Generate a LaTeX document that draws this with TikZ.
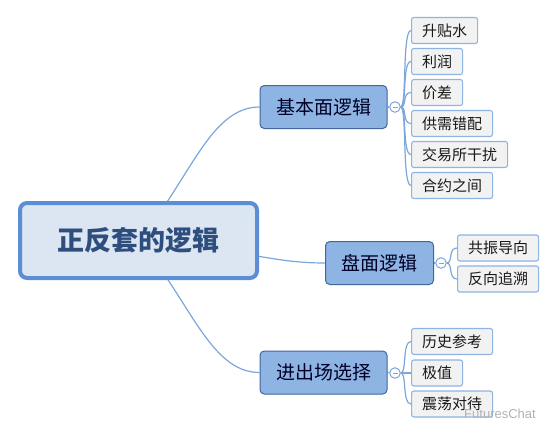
\documentclass[tikz,border=0pt]{standalone}
\usepackage{fontspec}
\usepackage{tikz}
\usetikzlibrary{backgrounds}
\newfontfamily\cjk{Noto Sans CJK SC}
\newfontfamily\wmfont{Liberation Sans}
\definecolor{rootfill}{HTML}{DCE6F2}
\definecolor{rootline}{HTML}{5B8ED4}
\definecolor{rootText}{HTML}{2E4F7E}
\definecolor{topicfill}{HTML}{8DB4E3}
\definecolor{topicline}{HTML}{41679C}
\definecolor{subfill}{HTML}{F2F2F2}
\definecolor{subline}{HTML}{8DB4E3}
\definecolor{linkcolor}{HTML}{7AA6DC}

\tikzset{
  rootbox/.style={draw=rootline, fill=rootfill, line width=4, rounded corners=0.25cm, minimum width=237, minimum height=75, text=rootText, font={\cjk\bfseries\fontsize{27}{27}\selectfont}},
  topicbox/.style={draw=topicline, fill=topicfill, line width=1, rounded corners=0.15cm, minimum height=43, inner xsep=16, text=black!85!blue, font={\cjk\fontsize{19}{19}\selectfont}},
  subbox/.style={draw=subline, fill=subfill, line width=1.1, rounded corners=0.08cm, minimum height=26, inner xsep=10.5, anchor=west, text=black!90, font={\cjk\fontsize{15}{15}\selectfont}},
  fold/.style={draw=linkcolor, fill=white, circle, line width=1, inner sep=0, minimum size=10.5},
  link/.style={draw=linkcolor, line width=1.2}
}

\begin{document}
\begin{tikzpicture}[x=1pt, y=-1pt]
\useasboundingbox (0, 0) rectangle (554, 436);

\node[rootbox] (root) at (138.5, 240.5) {正反套的逻辑};

\node[topicbox] (fundamental logic) at (323.5, 107) {基本面逻辑};
\node[topicbox] (market logic) at (379.5, 263) {盘面逻辑};
\node[topicbox] (entry exit) at (323.5, 372.5) {进出场选择};

\node[fold] (fold one) at (395, 107) {\color{linkcolor}\rule{5pt}{0.9pt}};
\node[fold] (fold two) at (441, 263) {\color{linkcolor}\rule{5pt}{0.9pt}};
\node[fold] (fold three) at (395, 373) {\color{linkcolor}\rule{5pt}{0.9pt}};

\node[subbox] (basis) at (411, 30.5) {升贴水};
\node[subbox] (profit) at (411, 61.5) {利润};
\node[subbox] (spread) at (411, 92.5) {价差};
\node[subbox] (supply demand) at (411, 123.5) {供需错配};
\node[subbox] (exchange) at (411, 154.5) {交易所干扰};
\node[subbox] (contracts) at (411, 185.5) {合约之间};

\node[subbox] (resonance) at (457, 248) {共振导向};
\node[subbox] (reverse) at (457, 279) {反向追溯};

\node[subbox] (history) at (411, 341.5) {历史参考};
\node[subbox] (extreme) at (411, 373) {极值};
\node[subbox] (range) at (411, 404) {震荡对待};

\node[text=gray!60, font={\wmfont\fontsize{13}{13}\selectfont}] (watermark) at (500, 414) {FuturesChat};

\begin{pgfonlayer}{background}
\draw[link] (root.center) .. controls (190, 180) and (210, 107) .. (fundamental logic.west) {};
\draw[link] (root.center) .. controls (250, 250) and (270, 263) .. (market logic.west) {};
\draw[link] (root.center) .. controls (190, 300) and (210, 372.5) .. (entry exit.west) {};

\draw[link] (fundamental logic.east) -- (fold one) {};
\draw[link] (market logic.east) -- (fold two) {};
\draw[link] (entry exit.east) -- (fold three) {};

\foreach \child in {basis, profit, spread, supply demand, exchange, contracts}
  \draw[link] (fold one.east) .. controls (407, 107) and (402, 107 |- \child.west) .. (\child.west) {};
\foreach \child in {resonance, reverse}
  \draw[link] (fold two.east) .. controls (453, 263) and (448, 263 |- \child.west) .. (\child.west) {};
\foreach \child in {history, extreme, range}
  \draw[link] (fold three.east) .. controls (407, 373) and (402, 373 |- \child.west) .. (\child.west) {};
\end{pgfonlayer}
\end{tikzpicture}
\end{document}
